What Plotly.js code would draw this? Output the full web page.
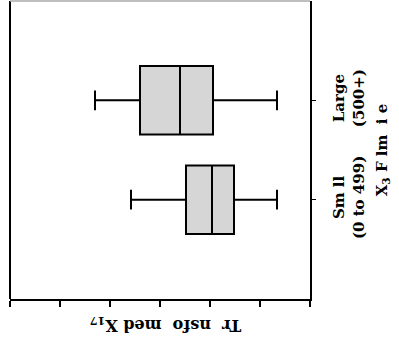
<!DOCTYPE html>
<html>
<head>
<meta charset="utf-8">
<script src="https://cdn.plot.ly/plotly-3.0.1.min.js"></script>
<style>
  html, body { margin: 0; padding: 0; background: #fff; }
  #chart { width: 399px; height: 348px; }
</style>
</head>
<body>
<div id="chart"></div>
<script>
// Firm-size groups and five-number summaries of the transformed variable
const groups = ['Sm ll<br>(0 to 499)', 'Large<br>(500+)'];
const lowerWhisker = [2.42, 1.70];
const q1 = [3.52, 2.60];
const median = [4.04, 3.40];
const q3 = [4.48, 4.06];
const upperWhisker = [5.34, 5.34];
const xTicks = [0, 1, 2, 3, 4, 5, 6];

const serif = 'DejaVu Serif, serif';

const trace = {
  type: 'box',
  orientation: 'h',
  y: groups,
  q1: q1,
  median: median,
  q3: q3,
  lowerfence: lowerWhisker,
  upperfence: upperWhisker,
  boxpoints: false,
  width: 0.69,
  whiskerwidth: 0.29,
  fillcolor: '#d6d6d6',
  line: { color: '#000', width: 2 },
  hoverinfo: 'skip',
  showlegend: false
};

const layout = {
  width: 399,
  height: 348,
  margin: { l: 10, r: 89, t: 1, b: 49 },
  paper_bgcolor: '#fff',
  plot_bgcolor: '#fff',
  xaxis: {
    range: [0, 6],
    tickvals: xTicks,
    showticklabels: false,
    ticks: 'outside',
    ticklen: 6,
    tickwidth: 1.5,
    tickcolor: '#000',
    showline: true,
    linecolor: '#000',
    linewidth: 2,
    showgrid: false,
    zeroline: false
  },
  yaxis: {
    type: 'category',
    side: 'right',
    range: [-1, 2],
    tickangle: -90,
    ticks: 'outside',
    ticklen: 4,
    tickwidth: 1,
    tickcolor: '#000',
    ticklabelstandoff: 10,
    showline: true,
    linecolor: '#000',
    linewidth: 2,
    showgrid: false,
    zeroline: false,
    tickfont: { family: serif, size: 15, color: '#000', weight: 'bold' },
    title: {
      text: 'X<sub>3</sub> F lm  i e',
      font: { family: serif, size: 15, color: '#000', weight: 'bold' },
      standoff: 10
    }
  },
  shapes: [
    { type: 'line', xref: 'paper', yref: 'paper', x0: 0, x1: 0, y0: 0, y1: 1,
      line: { color: '#000', width: 2 } },
    { type: 'line', xref: 'paper', yref: 'paper', x0: 0, x1: 1, y0: 1, y1: 1,
      line: { color: '#aaa', width: 1.5 } }
  ],
  annotations: [
    {
      text: 'Tr  nsfo  med X<sub>17</sub>',
      xref: 'paper', yref: 'paper',
      x: 0.517, y: 0,
      yshift: -26,
      xanchor: 'center', yanchor: 'middle',
      textangle: 180,
      showarrow: false,
      font: { family: serif, size: 16, color: '#000', weight: 'bold' }
    }
  ]
};

Plotly.newPlot('chart', [trace], layout, { staticPlot: true, displayModeBar: false });
</script>
</body>
</html>
